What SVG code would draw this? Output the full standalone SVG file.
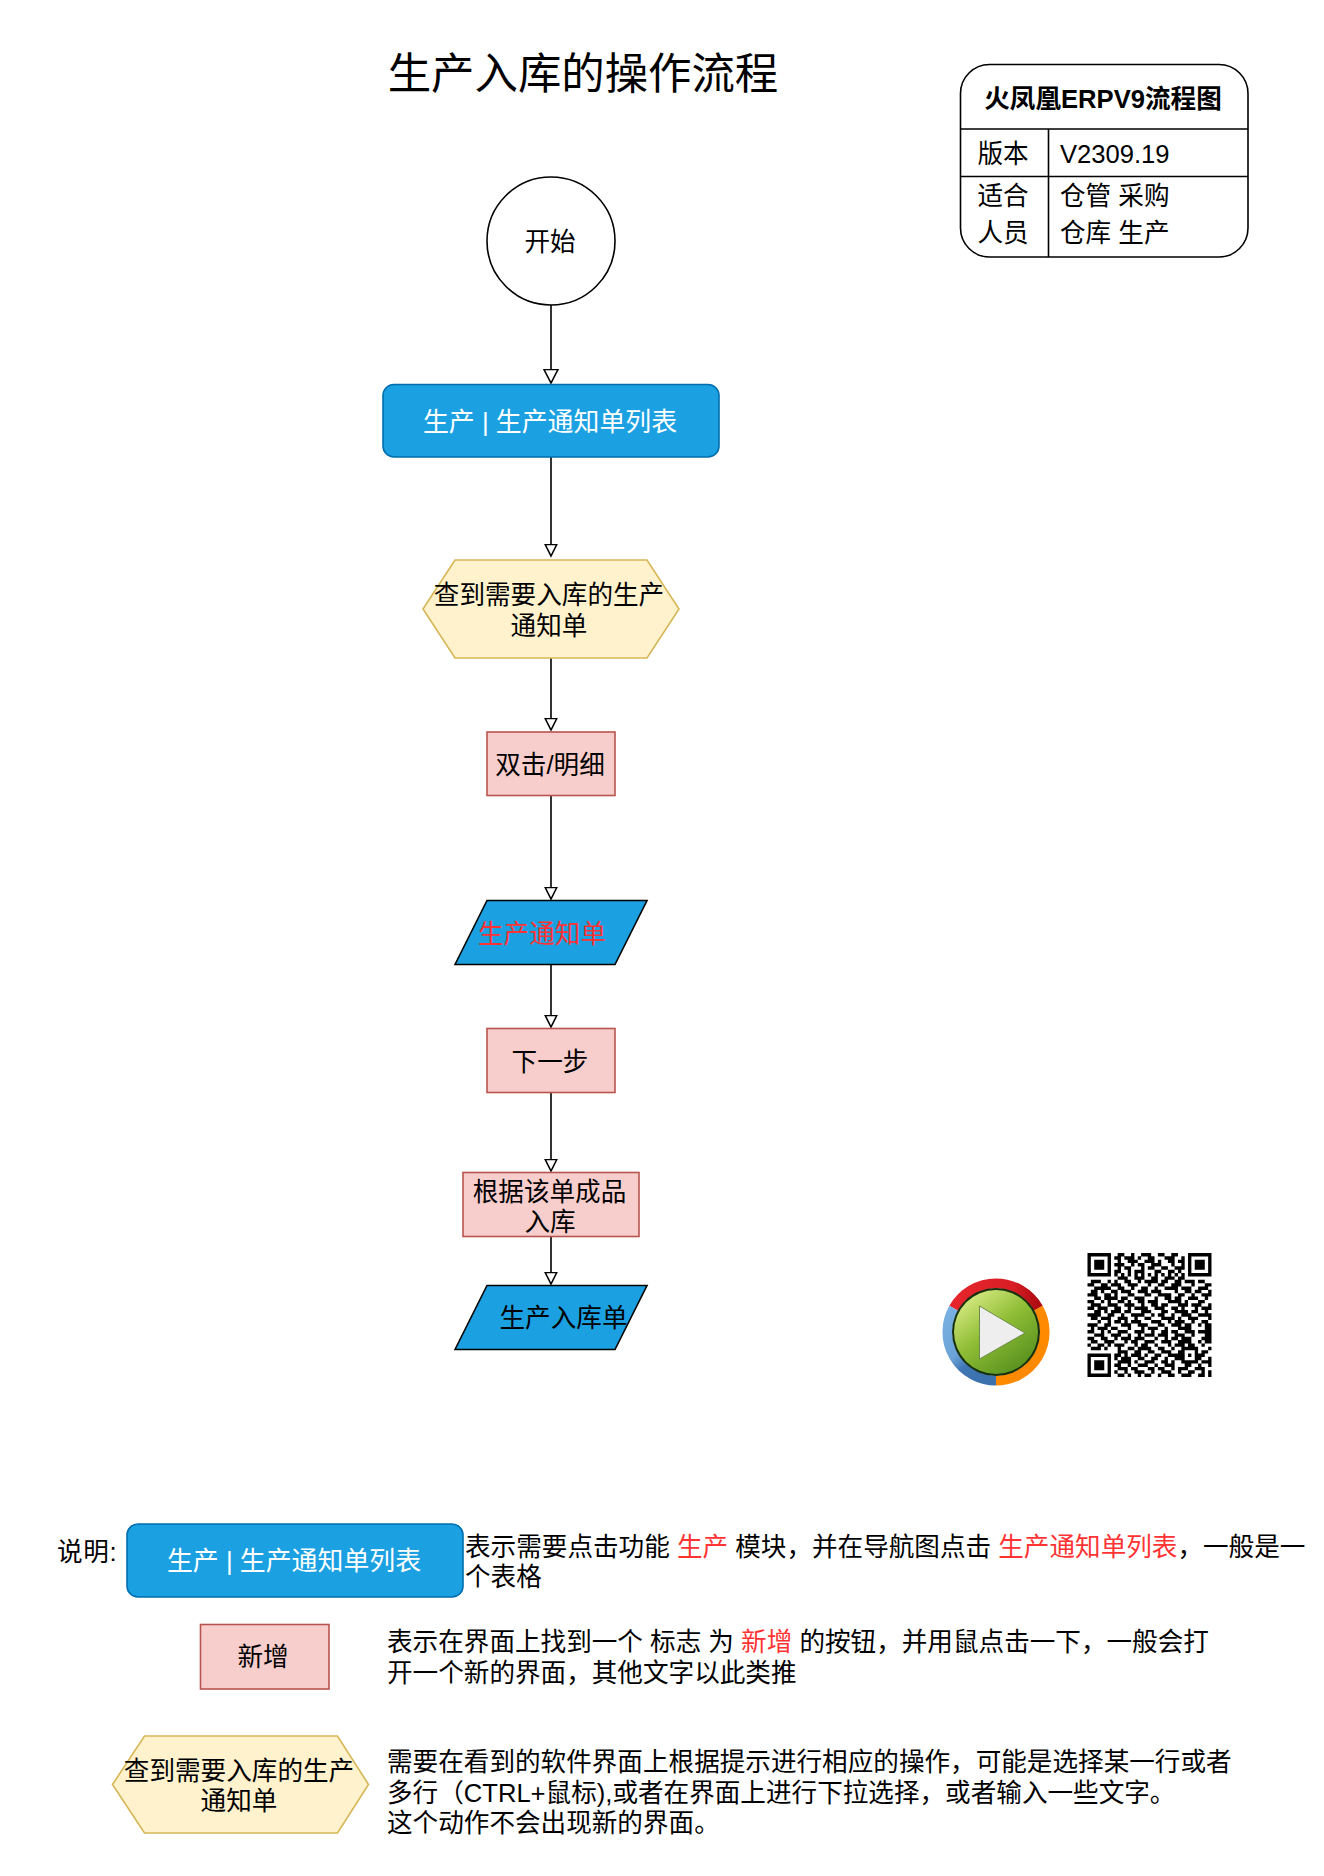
<svg xmlns="http://www.w3.org/2000/svg" width="1324" height="1876" viewBox="0 0 1324 1876">
<defs>
<style>
text{font-family:"Liberation Sans","Noto Sans CJK SC",sans-serif;font-size:25.6px;fill:#000}
.m{text-anchor:middle}
.w{fill:#fff}
.r{fill:#f33}
.edge{fill:none;stroke:#000;stroke-width:1.6}
.blue{fill:#1ba1e2;stroke:#006eaf;stroke-width:1.6}
.para{fill:#1ba1e2;stroke:#000;stroke-width:1.6}
.hex{fill:#fff2cc;stroke:#d6b656;stroke-width:1.6}
.pink{fill:#f8cecc;stroke:#b85450;stroke-width:1.6}
.tb{fill:none;stroke:#000;stroke-width:1.6}
</style>
<marker id="a" markerUnits="userSpaceOnUse" markerWidth="18" markerHeight="18" refX="14.500" refY="8" orient="auto"><path d="M1 1L14.500 8L1 15Z" fill="#fff" stroke="#000" stroke-width="1.6"/></marker>
<marker id="b" markerUnits="userSpaceOnUse" markerWidth="18" markerHeight="18" refX="12.500" refY="7" orient="auto"><path d="M1 1.200L12.500 7L1 12.800Z" fill="#fff" stroke="#000" stroke-width="1.6"/></marker>
<linearGradient id="gg" x1="0.2" y1="0.1" x2="0.8" y2="0.9"><stop offset="0" stop-color="#cfe57a"/><stop offset="0.45" stop-color="#8fbd35"/><stop offset="1" stop-color="#5c9420"/></linearGradient>
<linearGradient id="gr" x1="0" y1="0" x2="1" y2="0"><stop offset="0" stop-color="#e6252c"/><stop offset="0.7" stop-color="#d81e26"/><stop offset="1" stop-color="#ae0a10"/></linearGradient>
<linearGradient id="gb" x1="0" y1="0" x2="0.6" y2="1"><stop offset="0" stop-color="#7ab2e2"/><stop offset="0.55" stop-color="#6ba3d8"/><stop offset="0.75" stop-color="#3f77b4"/><stop offset="1" stop-color="#3c72ad"/></linearGradient>
</defs>
<rect width="1324" height="1876" fill="#fff"/>
<text id="title" x="583" y="89" class="m" style="font-size:43.4px">生产入库的操作流程</text>
<g id="connectors">
<path class="edge" d="M551 305V383" marker-end="url(#a)"/>
<path class="edge" d="M551 457V556" marker-end="url(#b)"/>
<path class="edge" d="M551 658V730" marker-end="url(#b)"/>
<path class="edge" d="M551 795V899" marker-end="url(#b)"/>
<path class="edge" d="M551 965V1027" marker-end="url(#b)"/>
<path class="edge" d="M551 1092V1171" marker-end="url(#b)"/>
<path class="edge" d="M551 1237V1284" marker-end="url(#b)"/>
</g>
<g id="start"><circle cx="551" cy="241" r="64" fill="#fff" stroke="#000" stroke-width="1.6"/><text x="550" y="250.500" class="m">开始</text></g>
<g id="n-list"><rect class="blue" x="383" y="384.500" width="336" height="72.500" rx="11"/><text x="550" y="431" class="m w" style="font-size:25.9px">生产 | 生产通知单列表</text></g>
<g id="n-find"><path class="hex" d="M423 609L455 560H647L679 609L647 658H455Z"/><text x="549" y="604" class="m">查到需要入库的生产</text><text x="549" y="635" class="m">通知单</text></g>
<g id="n-dbl"><rect class="pink" x="487" y="732" width="128" height="63.500"/><text x="550" y="774" class="m">双击/明细</text></g>
<g id="n-form"><path class="para" d="M455 964.500L487 900.500H647L615 964.500Z"/><text x="542" y="942.500" class="m r">生产通知单</text></g>
<g id="n-next"><rect class="pink" x="487" y="1028.500" width="128" height="64"/><text x="550" y="1070.500" class="m">下一步</text></g>
<g id="n-make"><rect class="pink" x="463" y="1172.500" width="176" height="64"/><text x="549.500" y="1200.500" class="m">根据该单成品</text><text x="550" y="1230.500" class="m">入库</text></g>
<g id="n-store"><path class="para" d="M455 1349.500L487 1285.500H647L615 1349.500Z"/><text x="563.500" y="1327" class="m">生产入库单</text></g>
<g id="info">
<rect class="tb" x="960.500" y="64.500" width="287.500" height="192.500" rx="29"/>
<path class="tb" d="M960.500 129H1248M960.500 176.500H1248M1048.500 129V257"/>
<text x="1103" y="108" class="m" style="font-weight:bold">火凤凰ERPV9流程图</text>
<text x="1003" y="163" class="m">版本</text><text x="1060" y="163">V2309.19</text>
<text x="1003" y="205" class="m">适合</text><text x="1060" y="205">仓管 采购</text>
<text x="1003" y="242" class="m">人员</text><text x="1060" y="242">仓库 生产</text>
</g>
<g id="play">
<circle cx="996" cy="1332" r="53" fill="#fff"/>
<path d="M953.700 1308.200A48.500 48.500 0 0 1 1038.300 1308.200" fill="none" stroke="url(#gr)" stroke-width="10"/>
<path d="M1038.300 1308.200A48.500 48.500 0 0 1 996 1380.500" fill="none" stroke="#ff8a00" stroke-width="10"/>
<path d="M996 1380.500A48.500 48.500 0 0 1 953.700 1308.200" fill="none" stroke="url(#gb)" stroke-width="10"/>
<circle cx="996" cy="1332" r="44" fill="#16300f"/>
<circle cx="996" cy="1332" r="42" fill="url(#gg)"/>
<path d="M979.500 1306L1025 1333L979.500 1359Z" fill="#eeeeee" stroke="#6f8a4a" stroke-width="1"/>
</g>
<g id="qr" transform="translate(1087.500 1253) scale(3.351)">
<path fill="none" stroke="#000" stroke-width="1.02" d="
M0 .5h7M9 .5h2M13 .5h1M16 .5h3M21 .5h2M25 .5h2M30 .5h7
M0 1.500h1M6 1.500h1M8 1.500h2M11 1.500h3M15 1.500h1M18 1.500h2M23 1.500h3M28 1.500h1M30 1.500h1M36 1.500h1
M0 2.500h1M2 2.500h3M6 2.500h1M9 2.500h1M12 2.500h3M17 2.500h3M21 2.500h1M24 2.500h2M27 2.500h2M30 2.500h1M32 2.500h3M36 2.500h1
M0 3.500h1M2 3.500h3M6 3.500h1M8 3.500h3M13 3.500h1M15 3.500h2M19 3.500h3M25 3.500h1M28 3.500h1M30 3.500h1M32 3.500h3M36 3.500h1
M0 4.500h1M2 4.500h3M6 4.500h1M9 4.500h1M11 4.500h2M16 4.500h1M18 4.500h2M22 4.500h2M26 4.500h3M30 4.500h1M32 4.500h3M36 4.500h1
M0 5.500h1M6 5.500h1M8 5.500h2M12 5.500h1M14 5.500h3M20 5.500h2M24 5.500h2M27 5.500h1M30 5.500h1M36 5.500h1
M0 6.500h7M8 6.500h1M10 6.500h1M12 6.500h1M14 6.500h1M16 6.500h1M18 6.500h1M20 6.500h1M22 6.500h1M24 6.500h1M26 6.500h1M28 6.500h1M30 6.500h7
M9 7.500h3M14 7.500h3M19 7.500h2M23 7.500h3M27 7.500h2
M1 8.500h3M6 8.500h1M8 8.500h1M11 8.500h2M15 8.500h1M17 8.500h4M22 8.500h2M26 8.500h2M29 8.500h3M33 8.500h2
M0 9.500h2M4 9.500h2M7 9.500h3M12 9.500h3M18 9.500h1M21 9.500h2M25 9.500h3M31 9.500h1M35 9.500h2
M2 10.500h4M6 10.500h1M9 10.500h2M13 10.500h1M16 10.500h2M20 10.500h1M23 10.500h4M28 10.500h3M33 10.500h3
M1 11.500h2M4 11.500h1M7 11.500h2M10 11.500h3M15 11.500h3M19 11.500h3M26 11.500h1M29 11.500h2M32 11.500h2M36 11.500h1
M0 12.500h3M5 12.500h2M8 12.500h1M12 12.500h2M17 12.500h2M21 12.500h4M27 12.500h2M31 12.500h1M34 12.500h3
M2 13.500h2M5 13.500h4M10 13.500h2M14 13.500h3M20 13.500h1M23 13.500h2M26 13.500h2M30 13.500h3M35 13.500h1
M0 14.500h2M4 14.500h1M6 14.500h1M9 14.500h2M12 14.500h1M15 14.500h2M18 14.500h3M24 14.500h4M29 14.500h1M33 14.500h2
M1 15.500h3M6 15.500h3M11 15.500h3M16 15.500h1M19 15.500h2M22 15.500h2M27 15.500h3M31 15.500h3M36 15.500h1
M0 16.500h2M3 16.500h3M8 16.500h2M12 16.500h1M14 16.500h4M20 16.500h3M25 16.500h2M28 16.500h1M32 16.500h1M34 16.500h3
M2 17.500h2M5 17.500h1M7 17.500h3M11 17.500h2M16 17.500h3M22 17.500h2M26 17.500h4M31 17.500h2M35 17.500h1
M0 18.500h4M6 18.500h2M10 18.500h1M13 18.500h4M19 18.500h1M21 18.500h2M25 18.500h1M28 18.500h3M33 18.500h4
M1 19.500h2M4 19.500h3M9 19.500h3M14 19.500h1M17 19.500h2M22 19.500h4M27 19.500h1M30 19.500h3M36 19.500h1
M3 20.500h1M6 20.500h1M8 20.500h2M11 20.500h1M13 20.500h3M19 20.500h3M24 20.500h1M26 20.500h3M31 20.500h1M34 20.500h2
M0 21.500h3M5 21.500h2M10 21.500h3M15 21.500h3M21 21.500h2M25 21.500h3M29 21.500h2M33 21.500h1M35 21.500h2
M1 22.500h1M3 22.500h3M7 22.500h2M12 22.500h1M16 22.500h1M18 22.500h3M23 22.500h1M27 22.500h4M35 22.500h2
M0 23.500h2M4 23.500h1M6 23.500h1M9 23.500h3M14 23.500h3M19 23.500h1M22 23.500h2M25 23.500h2M29 23.500h3M33 23.500h4
M2 24.500h3M7 24.500h3M12 24.500h1M15 24.500h1M17 24.500h3M21 24.500h3M26 24.500h3M31 24.500h1M35 24.500h2
M0 25.500h2M4 25.500h2M8 25.500h1M10 25.500h3M14 25.500h3M20 25.500h1M23 25.500h1M25 25.500h2M28 25.500h3M34 25.500h3
M1 26.500h2M5 26.500h3M11 26.500h1M13 26.500h2M17 26.500h3M22 26.500h3M27 26.500h4M33 26.500h1M35 26.500h2
M0 27.500h1M3 27.500h2M6 27.500h1M8 27.500h3M14 27.500h1M16 27.500h2M20 27.500h1M24 27.500h1M26 27.500h3M30 27.500h2M34 27.500h1
M1 28.500h3M5 28.500h1M9 28.500h1M12 28.500h2M15 28.500h4M21 28.500h2M25 28.500h1M28 28.500h5M36 28.500h1
M9 29.500h3M14 29.500h2M18 29.500h2M22 29.500h3M27 29.500h2M32 29.500h1M34 29.500h2
M0 30.500h7M8 30.500h2M11 30.500h1M13 30.500h3M17 30.500h1M20 30.500h2M24 30.500h4M28 30.500h1M30 30.500h1M32 30.500h3
M0 31.500h1M6 31.500h1M8 31.500h1M10 31.500h3M15 31.500h2M19 31.500h2M23 31.500h1M26 31.500h3M32 31.500h2M36 31.500h1
M0 32.500h1M2 32.500h3M6 32.500h1M9 32.500h4M14 32.500h1M17 32.500h3M22 32.500h2M25 32.500h1M28 32.500h5M34 32.500h3
M0 33.500h1M2 33.500h3M6 33.500h1M8 33.500h2M12 33.500h1M15 33.500h3M20 33.500h1M23 33.500h3M29 33.500h2M33 33.500h1M36 33.500h1
M0 34.500h1M2 34.500h3M6 34.500h1M9 34.500h3M13 34.500h2M18 34.500h2M21 34.500h2M25 34.500h1M27 34.500h3M32 34.500h3
M0 35.500h1M6 35.500h1M8 35.500h1M11 35.500h1M14 35.500h3M19 35.500h1M22 35.500h3M27 35.500h1M30 35.500h2M34 35.500h1M36 35.500h1
M0 36.500h7M9 36.500h2M12 36.500h1M15 36.500h1M17 36.500h2M21 36.500h1M24 36.500h2M28 36.500h3M33 36.500h2M36 36.500h1"/>
</g>
<g id="legend-label"><text x="57" y="1561" style="letter-spacing:.7px">说明:</text></g>
<g id="legend-list"><rect class="blue" x="127" y="1524" width="336" height="73" rx="11"/><text x="294" y="1570" class="m w" style="font-size:25.9px">生产 | 生产通知单列表</text></g>
<g id="legend-list-text"><text x="465" y="1555.500">表示需要点击功能 <tspan class="r">生产</tspan> 模块，并在导航图点击 <tspan class="r">生产通知单列表</tspan>，一般是一</text><text x="465" y="1586">个表格</text></g>
<g id="legend-new"><rect class="pink" x="200.500" y="1624.500" width="128.500" height="64.500"/><text x="263" y="1665.500" class="m">新增</text></g>
<g id="legend-new-text"><text x="387" y="1651">表示在界面上找到一个 标志 为 <tspan class="r">新增</tspan> 的按钮，并用鼠点击一下，一般会打</text><text x="387" y="1682">开一个新的界面，其他文字以此类推</text></g>
<g id="legend-hex"><path class="hex" d="M112.500 1784.500L144.500 1736H337.500L368.500 1784.500L337.500 1833H144.500Z"/><text x="239" y="1780" class="m">查到需要入库的生产</text><text x="239" y="1810" class="m">通知单</text></g>
<g id="legend-hex-text"><text x="387" y="1771">需要在看到的软件界面上根据提示进行相应的操作，可能是选择某一行或者</text><text x="387" y="1802">多行（CTRL+鼠标),或者在界面上进行下拉选择，或者输入一些文字。</text><text x="387" y="1832">这个动作不会出现新的界面。</text></g>
</svg>
